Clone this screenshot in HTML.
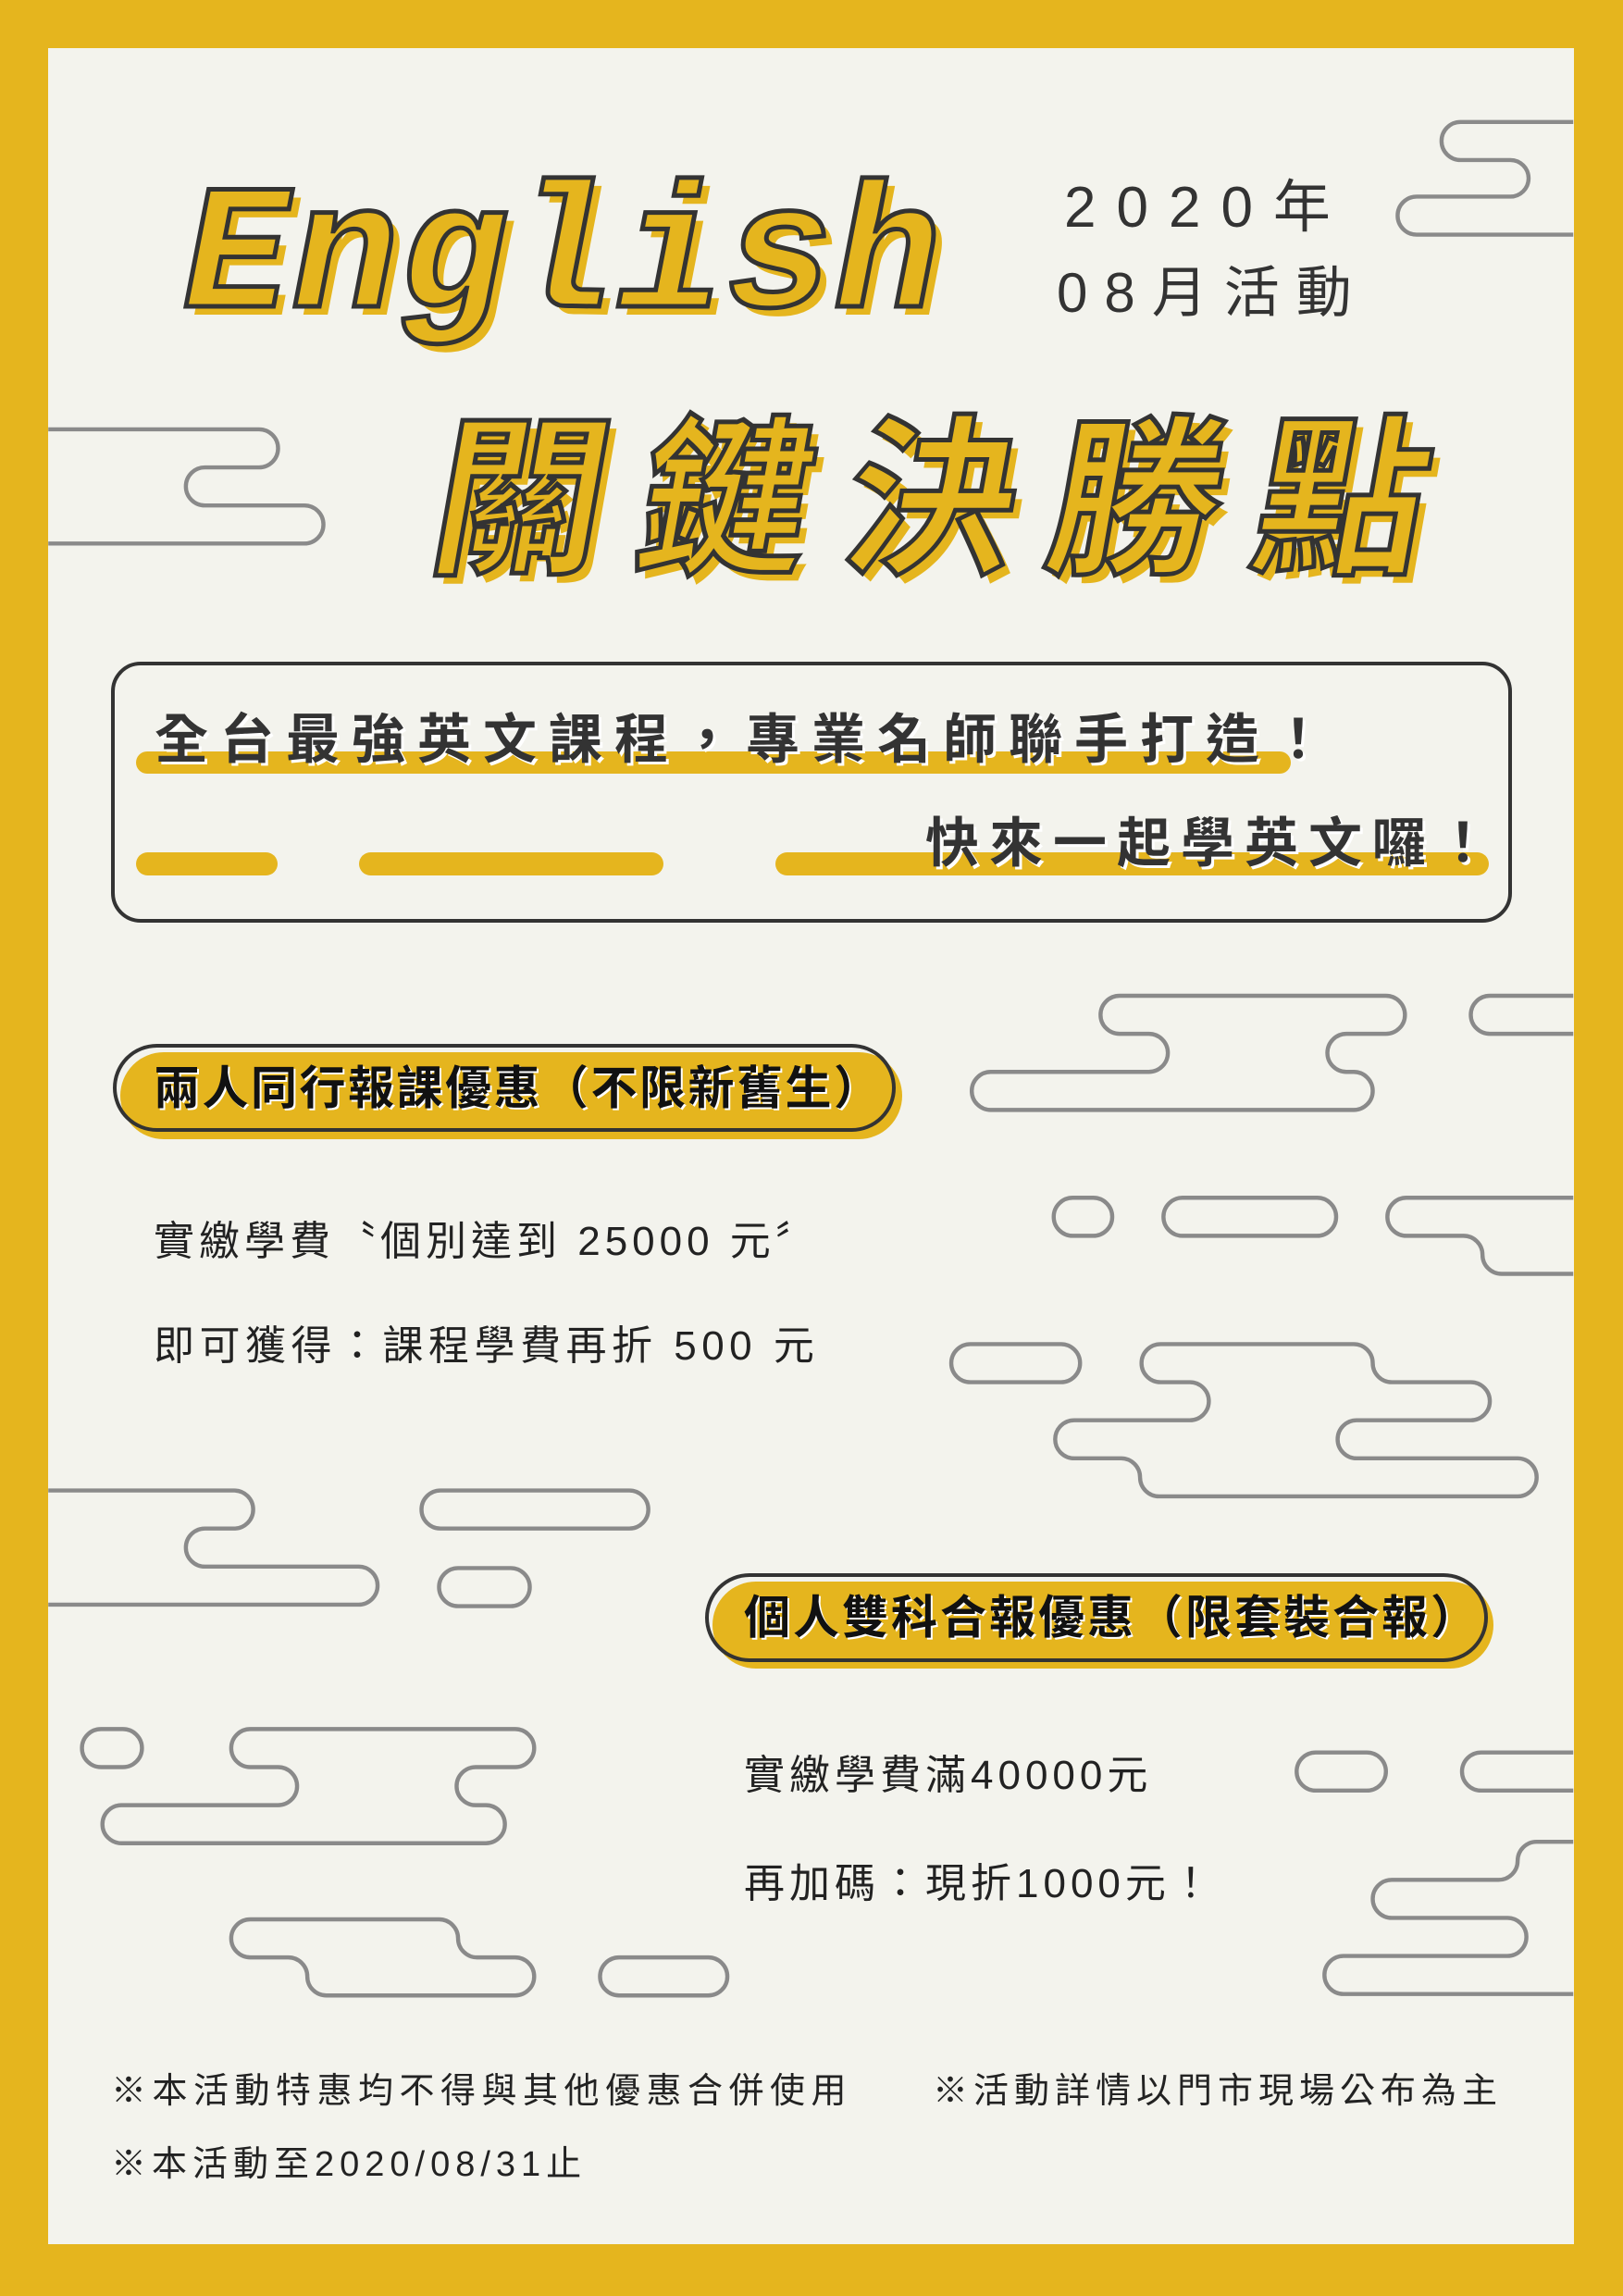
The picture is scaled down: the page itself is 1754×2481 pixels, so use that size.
<!DOCTYPE html>
<html><head><meta charset="utf-8"><style>
*{margin:0;padding:0;box-sizing:border-box}
body{width:1754px;height:2481px;background:#e5b51e;position:relative;overflow:hidden;font-family:"Liberation Sans","Noto Sans CJK TC",sans-serif}
#inner{position:absolute;left:52px;top:52px;width:1649px;height:2373px;background:#f3f3ed}
.abs{position:absolute;white-space:nowrap}
.dk{color:#222}
.bar{position:absolute;background:#e5b51e;border-radius:14px}
</style></head><body>
<div id="inner"></div>
<svg class="abs" style="left:0;top:0" width="1754" height="2481" viewBox="0 0 1109 1568" fill="none" stroke="#8a8a8a" stroke-width="2.8">
<path d="M1075 83 H998 a13 13 0 0 0 0 26 H1032 a12.5 12.5 0 0 1 0 25 H968 a13 13 0 0 0 0 26 H1075"/>
<path d="M33 293 H177 a13 13 0 0 1 0 26 H140 a13 13 0 0 0 0 26 H208 a13 13 0 0 1 0 26 H33"/>
<path d="M765 680 H947 a13 13 0 0 1 0 26 H920 a13 13 0 0 0 0 26 H925 a13 13 0 0 1 0 26 H677 a13 13 0 0 1 0 -26 H785 a13 13 0 0 0 0 -26 H765 a13 13 0 0 1 0 -26 Z"/>
<path d="M1075 680 H1018 a13 13 0 0 0 0 26 H1075"/>
<rect x="720" y="818" width="40" height="26" rx="13"/>
<rect x="795" y="818" width="118" height="26" rx="13"/>
<path d="M1075 818 H961 a13 13 0 0 0 0 26 H1000 a13 13 0 0 1 13 13 a13 13 0 0 0 13 13 H1075"/>
<rect x="650" y="918" width="88" height="26" rx="13"/>
<path d="M793 918 H925 a13 13 0 0 1 13 13 a13 13 0 0 0 13 13 H1005 a13 13 0 0 1 0 26 H927 a13 13 0 0 0 0 26 H1037 a13 13 0 0 1 0 26 H792 a13 13 0 0 1 -13 -13 a13 13 0 0 0 -13 -13 H734 a13 13 0 0 1 0 -26 H813 a13 13 0 0 0 0 -26 H793 a13 13 0 0 1 0 -26 Z"/>
<path d="M33 1018 H160 a13 13 0 0 1 0 26 H140 a13 13 0 0 0 0 26 H245 a13 13 0 0 1 0 26 H33"/>
<rect x="288" y="1018" width="155" height="26" rx="13"/>
<rect x="300" y="1071" width="62" height="26" rx="13"/>
<rect x="56" y="1181" width="41" height="26" rx="13"/>
<path d="M171 1181 H352 a13 13 0 0 1 0 26 H325 a13 13 0 0 0 0 26 H332 a13 13 0 0 1 0 26 H83 a13 13 0 0 1 0 -26 H190 a13 13 0 0 0 0 -26 H171 a13 13 0 0 1 0 -26 Z"/>
<path d="M171 1311 H300 a13 13 0 0 1 13 13 a13 13 0 0 0 13 13 H352 a13 13 0 0 1 0 26 H223 a13 13 0 0 1 -13 -13 a13 13 0 0 0 -13 -13 H171 a13 13 0 0 1 0 -26 Z"/>
<rect x="410" y="1337" width="87" height="26" rx="13"/>
<rect x="886" y="1197" width="61" height="26" rx="13"/>
<path d="M1075 1197 H1012 a13 13 0 0 0 0 26 H1075"/>
<path d="M1075 1258 H1050 a13 13 0 0 0 -13 13 a13 13 0 0 1 -13 13 H951 a13 13 0 0 0 0 26 H1030 a13 13 0 0 1 0 26 H918 a13 13 0 0 0 0 26 H1075"/>
</svg>

<div class="abs" style="left:198px;top:180px;font-family:'Liberation Mono',monospace;font-weight:bold;font-style:italic;font-size:192px;line-height:200px;letter-spacing:2px;color:#e5b51e;-webkit-text-stroke:5px #333;text-shadow:9px 9px 0 #e5b51e">English</div>
<div class="abs dk" style="left:1150px;top:190px;font-size:62px;line-height:70px;letter-spacing:22px;color:#333">2020年</div>
<div class="abs dk" style="left:1142px;top:282px;font-size:60px;line-height:70px;letter-spacing:18px;color:#333">08月活動</div>
<div class="abs" style="left:470px;top:442px;font-size:186px;line-height:200px;letter-spacing:36px;font-weight:bold;color:#e5b51e;-webkit-text-stroke:5px #333;text-shadow:10px 9px 0 #e5b51e;transform:skewX(-10deg)">關鍵決勝點</div>

<div class="abs" style="left:120px;top:715px;width:1514px;height:282px;border:4px solid #333;border-radius:32px"></div>
<div class="bar" style="left:147px;top:812px;width:1248px;height:24px"></div>
<div class="bar" style="left:147px;top:921px;width:153px;height:25px"></div>
<div class="bar" style="left:388px;top:921px;width:329px;height:25px"></div>
<div class="bar" style="left:838px;top:921px;width:771px;height:25px"></div>
<div class="abs" style="left:167px;top:764px;font-size:58px;line-height:72px;letter-spacing:13px;color:#333;font-weight:bold;text-shadow:3px 3px 0 #fff">全台最強英文課程，專業名師聯手打造！</div>
<div class="abs" style="left:1000px;top:876px;font-size:58px;line-height:72px;letter-spacing:11px;color:#333;font-weight:bold;text-shadow:3px 3px 0 #fff">快來一起學英文囉！</div>

<div class="abs" style="left:130px;top:1137px;width:845px;height:94px;background:#e5b51e;border-radius:47px"></div>
<div class="abs" style="left:122px;top:1128px;width:846px;height:95px;border:4px solid #333;border-radius:48px"></div>
<div class="abs" style="left:166px;top:1144px;font-size:50px;line-height:64px;font-weight:bold;color:#111;letter-spacing:2.5px;text-shadow:2px 2px 0 #fff">兩人同行報課優惠（不限新舊生）</div>
<div class="abs dk" style="left:166px;top:1314px;font-size:44px;line-height:56px;letter-spacing:5px">實繳學費〝個別達到 25000 元〞</div>
<div class="abs dk" style="left:166px;top:1427px;font-size:44px;line-height:56px;letter-spacing:5.5px">即可獲得：課程學費再折 500 元</div>

<div class="abs" style="left:770px;top:1709px;width:844px;height:94px;background:#e5b51e;border-radius:47px"></div>
<div class="abs" style="left:762px;top:1700px;width:846px;height:96px;border:4px solid #333;border-radius:48px"></div>
<div class="abs" style="left:804px;top:1716px;font-size:50px;line-height:64px;font-weight:bold;color:#111;letter-spacing:3px;text-shadow:2px 2px 0 #fff">個人雙科合報優惠（限套裝合報）</div>
<div class="abs dk" style="left:804px;top:1891px;font-size:44px;line-height:56px;letter-spacing:5px">實繳學費滿40000元</div>
<div class="abs dk" style="left:804px;top:2008px;font-size:44px;line-height:56px;letter-spacing:5px">再加碼：現折1000元！</div>

<div class="abs dk" style="left:120px;top:2236px;font-size:38px;line-height:48px;letter-spacing:6.5px">※本活動特惠均不得與其他優惠合併使用</div>
<div class="abs dk" style="left:1008px;top:2236px;font-size:38px;line-height:48px;letter-spacing:6px">※活動詳情以門市現場公布為主</div>
<div class="abs dk" style="left:120px;top:2315px;font-size:38px;line-height:48px;letter-spacing:6px">※本活動至2020/08/31止</div>
</body></html>
